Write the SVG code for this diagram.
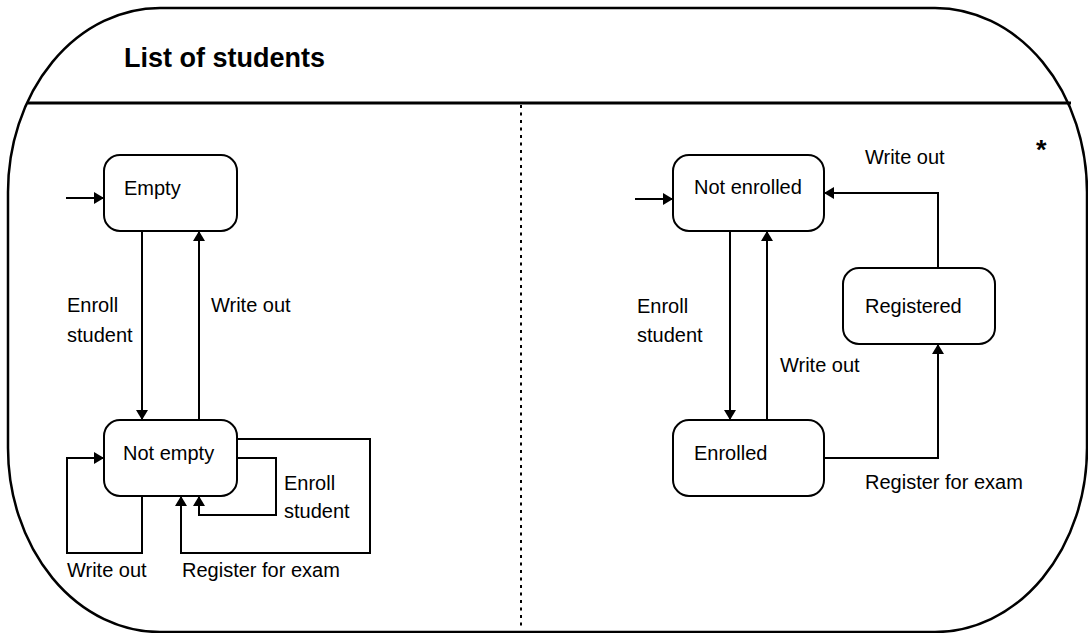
<svg xmlns="http://www.w3.org/2000/svg" width="1088" height="633" viewBox="0 0 1088 633">
  <style>
    .frame { fill: none; stroke: #000; stroke-width: 2.5; }
    .state { fill: #fff; stroke: #000; stroke-width: 2; }
    .conn { fill: none; stroke: #000; stroke-width: 2; marker-end: url(#arrow); }
    .lbl { font-family: "Liberation Sans", Arial, sans-serif; font-size: 20px; fill: #000; }
    .title { font-family: "Liberation Sans", Arial, sans-serif; font-size: 27px; font-weight: bold; fill: #000; }
  </style>
  <defs>
    <marker id="arrow" viewBox="0 0 10 12" refX="10" refY="6" markerWidth="10" markerHeight="12" markerUnits="userSpaceOnUse" orient="auto">
      <path d="M0,0 L10,6 L0,12 z" fill="#000"/>
    </marker>
  </defs>
  <rect width="1088" height="633" fill="#fff"/>

  <g id="frame">
    <path class="frame" d="M160,8 H935 A152,184 0 0 1 1087,192 V448 A152,184 0 0 1 935,632 H160 A152,184 0 0 1 8,448 V192 A152,184 0 0 1 160,8 Z"/>
    <line x1="28" y1="103" x2="1071" y2="103" stroke="#000" stroke-width="3"/>
    <line x1="521" y1="105" x2="521" y2="630" stroke="#000" stroke-width="2" stroke-dasharray="3 4.5"/>
    <text class="title" x="124" y="67">List of students</text>
    <text class="title" x="1036" y="159">*</text>
  </g>

  <g id="connectors">
    <path class="conn" d="M66,198 H104"/>
    <path class="conn" d="M142,231 V420"/>
    <path class="conn" d="M199,420 V231"/>
    <path class="conn" d="M142,496 V553 H67 V458 H104"/>
    <path class="conn" d="M237,458 H276 V515 H199 V496"/>
    <path class="conn" d="M237,439 H370 V553 H181 V496"/>
    <path class="conn" d="M635,199 H673"/>
    <path class="conn" d="M730,231 V420"/>
    <path class="conn" d="M767,420 V231"/>
    <path class="conn" d="M824,458 H938 V344"/>
    <path class="conn" d="M938,268 V193 H824"/>
  </g>

  <g id="labels">
    <text class="lbl" x="67" y="312">Enroll</text>
    <text class="lbl" x="67" y="342">student</text>
    <text class="lbl" x="211" y="312">Write out</text>
    <text class="lbl" x="284" y="490">Enroll</text>
    <text class="lbl" x="284" y="518">student</text>
    <text class="lbl" x="67" y="577">Write out</text>
    <text class="lbl" x="182" y="577">Register for exam</text>
    <text class="lbl" x="865" y="164">Write out</text>
    <text class="lbl" x="637" y="313">Enroll</text>
    <text class="lbl" x="637" y="342">student</text>
    <text class="lbl" x="780" y="372">Write out</text>
    <text class="lbl" x="865" y="489">Register for exam</text>
  </g>

  <g id="node-empty">
    <rect class="state" x="104" y="155" width="133" height="76" rx="16"/>
    <text class="lbl" x="124" y="195">Empty</text>
  </g>
  <g id="node-not-empty">
    <rect class="state" x="104" y="420" width="133" height="76" rx="16"/>
    <text class="lbl" x="123" y="460">Not empty</text>
  </g>
  <g id="node-not-enrolled">
    <rect class="state" x="673" y="155" width="151" height="76" rx="16"/>
    <text class="lbl" x="694" y="194">Not enrolled</text>
  </g>
  <g id="node-registered">
    <rect class="state" x="843" y="268" width="152" height="76" rx="16"/>
    <text class="lbl" x="865" y="313">Registered</text>
  </g>
  <g id="node-enrolled">
    <rect class="state" x="673" y="420" width="151" height="76" rx="16"/>
    <text class="lbl" x="694" y="460">Enrolled</text>
  </g>
</svg>
